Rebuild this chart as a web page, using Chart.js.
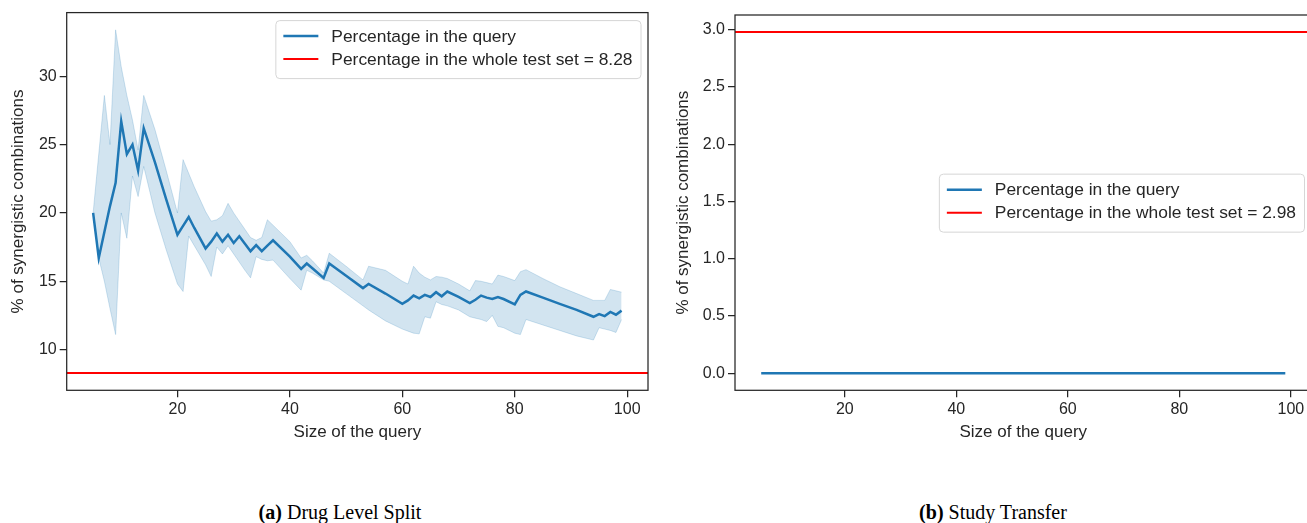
<!DOCTYPE html>
<html>
<head>
<meta charset="utf-8">
<script src="https://cdn.jsdelivr.net/npm/chart.js@4.4.0/dist/chart.umd.min.js"></script>
<style>
  html, body { margin: 0; padding: 0; background: #fff; width: 1307px; height: 523px; overflow: hidden; position: relative; }
  canvas { position: absolute; top: 0; }
  #drugChart { left: 0; }
  #studyChart { left: 660px; }
  .caption { position: absolute; top: 500px; line-height: 24px; font-family: "Liberation Serif", "DejaVu Serif", serif; font-size: 20px; color: #000; text-align: center; }
</style>
</head>
<body>
<canvas id="drugChart" width="660" height="443"></canvas>
<canvas id="studyChart" width="670" height="443"></canvas>
<div class="caption" style="left:0; width:680px;"><b>(a)</b> Drug Level Split</div>
<div class="caption" style="left:660px; width:666px;"><b>(b)</b> Study Transfer</div>

<script>
// query sizes and the % of synergistic combinations (drug level split)
const sizes = [5, 6, 7, 8, 9, 10, 11, 12, 13, 14,
  16, 18, 20, 21, 22, 23, 25, 26, 27, 28,
  29, 30, 31, 32, 33, 34, 35, 36, 37, 40,
  42, 43, 44, 46, 47, 50, 53, 54, 57, 60,
  61, 62, 63, 64, 65, 66, 67, 68, 70, 72,
  73, 74, 75, 76, 77, 78, 80, 81, 82, 85,
  88, 91, 94, 95, 96, 97, 98, 99];

const drugQuery = [20.0, 16.7, 18.6, 20.5, 22.2, 26.7, 24.3, 25.0, 23.1, 26.2,
  23.7, 21.0, 18.4, 19.05, 19.7, 18.9, 17.4, 17.9, 18.5, 17.9,
  18.4, 17.8, 18.3, 17.75, 17.2, 17.65, 17.2, 17.6, 18.0, 16.8,
  15.9, 16.3, 15.95, 15.25, 16.3, 15.4, 14.5, 14.8, 14.1, 13.35,
  13.6, 13.95, 13.75, 14.0, 13.85, 14.2, 13.9, 14.25, 13.85, 13.4,
  13.65, 13.95, 13.8, 13.7, 13.85, 13.7, 13.3, 14.0, 14.25, 13.8,
  13.35, 12.9, 12.4, 12.6, 12.45, 12.75, 12.55, 12.85];

const drugUpper = [20.0, 24.3, 28.6, 25.0, 33.4, 30.7, 28.6, 26.8, 24.6, 28.6,
  26.1, 23.1, 20.0, 23.9, 22.9, 21.9, 20.1, 19.4, 19.5, 19.8,
  20.7, 20.0, 19.4, 18.8, 18.2, 18.0, 18.2, 19.5, 19.1, 17.9,
  16.7, 16.9, 16.5, 15.6, 17.05, 16.1, 15.1, 16.1, 15.8, 15.0,
  14.8, 16.1, 15.6, 15.3, 15.1, 15.35, 15.3, 15.2, 14.8, 14.3,
  15.05, 15.0, 14.9, 14.8, 15.45, 15.35, 15.05, 15.7, 15.85, 15.2,
  14.6, 14.1, 13.6, 13.6, 13.6, 14.4, 14.3, 14.2];

const drugLower = [20.0, 16.7, 15.0, 13.0, 11.1, 20.0, 18.15, 22.7, 21.2, 23.4,
  20.0, 17.3, 14.8, 14.25, 18.3, 17.6, 16.2, 15.35, 17.5, 17.0,
  17.6, 17.0, 16.4, 15.8, 15.25, 16.8, 16.6, 16.5, 16.55, 15.2,
  14.35, 15.8, 15.6, 15.1, 15.0, 14.1, 13.2, 12.9, 12.1, 11.5,
  11.35, 11.2, 11.15, 12.4, 12.3, 13.5, 13.3, 13.2, 12.9, 12.4,
  12.3, 12.2, 12.05, 12.5, 11.7, 11.6, 11.2, 11.1, 12.2, 11.8,
  11.4, 11.0, 10.7, 11.6, 11.5, 11.4, 11.25, 12.2];

const drugWholeSet = 8.28;

// study transfer: the query never holds a synergistic combination
const studySizes = [5, 99];
const studyQuery = [0, 0];
const studyWholeSet = 2.98;

// axes
const xLimits = [0.3, 103.7];
const xTicks = [20, 40, 60, 80, 100];
const drugYLimits = [7.02, 34.66];
const drugYTicks = [10, 15, 20, 25, 30];
const studyYLimits = [-0.149, 3.129];
const studyYTicks = [0, 0.5, 1, 1.5, 2, 2.5, 3];

const ink = '#262626';
const blue = '#1f77b4';
Chart.defaults.font.family = '"Liberation Sans", Arial, sans-serif';
Chart.defaults.color = ink;

function pts(xs, ys) {
  return xs.map((x, i) => ({ x: x, y: ys[i] }));
}

// box around the plot area, like matplotlib spines
const frame = {
  id: 'frame',
  afterDatasetsDraw(chart) {
    const a = chart.chartArea, ctx = chart.ctx;
    ctx.save();
    ctx.strokeStyle = ink;
    ctx.lineWidth = 1.25;
    ctx.strokeRect(a.left, a.top, a.right - a.left, a.bottom - a.top);
    ctx.restore();
  }
};

// legend drawn inside the axes
const boxLegend = {
  id: 'boxLegend',
  afterDraw(chart, args, opts) {
    const ctx = chart.ctx, a = chart.chartArea;
    const items = chart.data.datasets.filter(d => d.label);
    ctx.save();
    ctx.font = '17.4px "Liberation Sans", Arial, sans-serif';
    const textW = Math.max(...items.map(d => ctx.measureText(d.label).width));
    const w = 8 + 35 + 13 + textW + 8;
    const h = 58;
    const x = a.right - 7.5 - w;
    const y = opts.loc == 'center right' ? (a.top + a.bottom) / 2 - h / 2 : a.top + 7.5;
    ctx.beginPath();
    ctx.roundRect(x + 0.5, y + 0.5, w, h, 4);
    ctx.fillStyle = 'rgba(255,255,255,0.8)';
    ctx.fill();
    ctx.strokeStyle = '#d6d6d6';
    ctx.lineWidth = 1;
    ctx.stroke();
    items.forEach((d, i) => {
      const cy = y + 16 + i * 23;
      ctx.beginPath();
      ctx.moveTo(x + 8, cy);
      ctx.lineTo(x + 43, cy);
      ctx.strokeStyle = d.borderColor;
      ctx.lineWidth = d.borderWidth;
      ctx.stroke();
      ctx.fillStyle = ink;
      ctx.textBaseline = 'middle';
      ctx.fillText(d.label, x + 56, cy + 1);
    });
    ctx.restore();
  }
};

function axes(yLimits, yTicks, yWidth, fmt) {
  return {
    x: {
      type: 'linear',
      min: xLimits[0],
      max: xLimits[1],
      afterBuildTicks: s => { s.ticks = xTicks.map(v => ({ value: v })); },
      afterFit: s => { s.height = 52.7; },
      grid: { drawOnChartArea: false, drawTicks: true, tickLength: 7, color: ink, lineWidth: 1.25 },
      border: { display: false },
      ticks: { padding: 3, font: { size: 16 }, color: ink, maxRotation: 0 },
      title: { display: true, text: 'Size of the query', font: { size: 17 }, color: ink, padding: 0 }
    },
    y: {
      type: 'linear',
      min: yLimits[0],
      max: yLimits[1],
      afterBuildTicks: s => { s.ticks = yTicks.map(v => ({ value: v })); },
      afterFit: s => { s.width = yWidth; },
      grid: { drawOnChartArea: false, drawTicks: true, tickLength: 7, color: ink, lineWidth: 1.25 },
      border: { display: false },
      ticks: { padding: 3, font: { size: 16 }, color: ink, callback: fmt },
      title: { display: true, text: '% of synergistic combinations', font: { size: 17 }, color: ink, padding: 0 }
    }
  };
}

new Chart(document.getElementById('drugChart'), {
  type: 'line',
  data: {
    datasets: [
      { label: 'Percentage in the query', data: pts(sizes, drugQuery), borderColor: blue, borderWidth: 2.5, pointRadius: 0, fill: false },
      { label: 'Percentage in the whole test set = ' + drugWholeSet, data: pts(xLimits, [drugWholeSet, drugWholeSet]), borderColor: '#ff0000', borderWidth: 2, pointRadius: 0, fill: false },
      { data: pts(sizes, drugUpper), borderColor: 'rgba(31,119,180,0.2)', borderWidth: 1, pointRadius: 0, fill: false },
      { data: pts(sizes, drugLower), borderColor: 'rgba(31,119,180,0.2)', borderWidth: 1, pointRadius: 0, fill: '-1', backgroundColor: 'rgba(31,119,180,0.2)' }
    ]
  },
  options: {
    responsive: false,
    animation: false,
    layout: { padding: { left: 8.1, top: 12.3, right: 12, bottom: 0 } },
    scales: axes(drugYLimits, drugYTicks, 58.6, v => v),
    plugins: { legend: { display: false }, tooltip: { enabled: false }, boxLegend: { loc: 'upper right' } }
  },
  plugins: [frame, boxLegend]
});

new Chart(document.getElementById('studyChart'), {
  type: 'line',
  data: {
    datasets: [
      { label: 'Percentage in the query', data: pts(studySizes, studyQuery), borderColor: blue, borderWidth: 2.5, pointRadius: 0, fill: false },
      { label: 'Percentage in the whole test set = ' + studyWholeSet, data: pts(xLimits, [studyWholeSet, studyWholeSet]), borderColor: '#ff0000', borderWidth: 2, pointRadius: 0, fill: false }
    ]
  },
  options: {
    responsive: false,
    animation: false,
    layout: { padding: { left: 12.8, top: 15, right: 18.5, bottom: 0 } },
    scales: axes(studyYLimits, studyYTicks, 62.2, v => v.toFixed(1)),
    plugins: { legend: { display: false }, tooltip: { enabled: false }, boxLegend: { loc: 'center right' } }
  },
  plugins: [frame, boxLegend]
});
</script>
</body>
</html>
